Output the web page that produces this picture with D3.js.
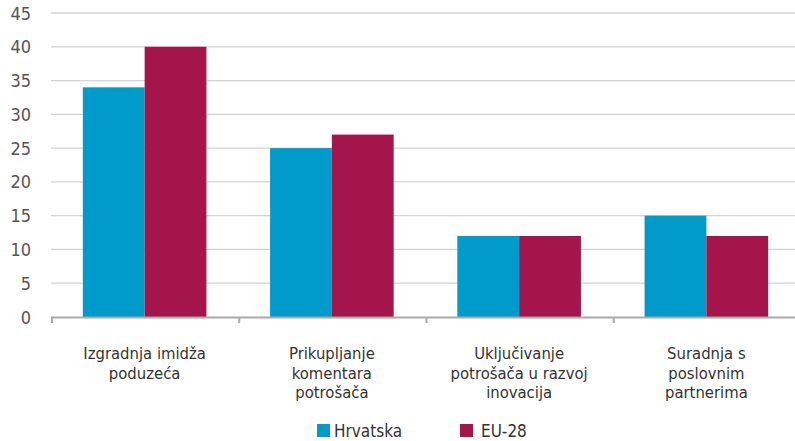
<!DOCTYPE html>
<html>
<head>
<meta charset="utf-8">
<script src="https://cdn.jsdelivr.net/npm/d3@7"></script>
<style>
  body { margin: 0; background: #fff; }
  text { font-family: "Liberation Sans Narrow", "DejaVu Sans Condensed", "Roboto", sans-serif; }
</style>
</head>
<body>
<div id="chart"></div>
<script>
// data
const categories = [
  ["Izgradnja imidža", "poduzeća"],
  ["Prikupljanje", "komentara", "potrošača"],
  ["Uključivanje", "potrošača u razvoj", "inovacija"],
  ["Suradnja s", "poslovnim", "partnerima"]
];
const seriesNames = ["Hrvatska", "EU-28"];
const hrvatska = [34, 25, 12, 15];
const eu28 = [40, 27, 12, 12];
const yTicks = [0, 5, 10, 15, 20, 25, 30, 35, 40, 45];
const colors = ["#009bca", "#a3154b"];

const W = 795, H = 441;
const margin = { left: 51, right: -5, top: 13, bottom: 124 };

const svg = d3.select("#chart").append("svg")
  .attr("width", W).attr("height", H);

const x0 = d3.scaleBand()
  .domain(d3.range(categories.length))
  .range([margin.left, W - margin.right])
  .paddingInner(0.34).paddingOuter(0.17);
const x1 = d3.scaleBand()
  .domain(d3.range(seriesNames.length))
  .range([0, x0.bandwidth()]);
const y = d3.scaleLinear().domain([0, 45]).range([H - margin.bottom, margin.top]);

// gridlines
svg.append("g").selectAll("line")
  .data(yTicks.filter(d => d > 0))
  .join("line")
  .attr("x1", margin.left).attr("x2", W)
  .attr("y1", d => y(d)).attr("y2", d => y(d))
  .attr("stroke", "#d4d4d4").attr("stroke-width", 1.3);

// y labels
svg.append("g").selectAll("text")
  .data(yTicks)
  .join("text")
  .attr("x", 31).attr("y", d => y(d) + 6.5)
  .attr("text-anchor", "end")
  .attr("font-size", 18)
  .attr("fill", "#555")
  .text(d => d);

// bars
const groups = svg.append("g").selectAll("g")
  .data(categories.map((c, i) => [hrvatska[i], eu28[i]]))
  .join("g")
  .attr("transform", (d, i) => `translate(${x0(i)},0)`);
groups.selectAll("rect")
  .data(d => d)
  .join("rect")
  .attr("x", (d, j) => x1(j))
  .attr("width", x1.bandwidth())
  .attr("y", d => y(d))
  .attr("height", d => y(0) - y(d))
  .attr("fill", (d, j) => colors[j]);

// x axis line with ticks
const axis = svg.append("g").attr("stroke", "#aaa").attr("stroke-width", 2);
axis.append("line")
  .attr("x1", margin.left).attr("x2", W)
  .attr("y1", y(0) + 0.5).attr("y2", y(0) + 0.5);
axis.selectAll("line.tick")
  .data(d3.range(categories.length + 1))
  .join("line").attr("class", "tick")
  .attr("x1", i => margin.left + 1 + i * x0.step())
  .attr("x2", i => margin.left + 1 + i * x0.step())
  .attr("y1", y(0)).attr("y2", y(0) + 6);

// category labels
svg.append("g").selectAll("text")
  .data(categories)
  .join("text")
  .attr("text-anchor", "middle")
  .attr("font-size", 16.5)
  .attr("fill", "#333")
  .attr("transform", (d, i) => `translate(${x0(i) + x0.bandwidth() / 2},359)`)
  .selectAll("tspan")
  .data(d => d)
  .join("tspan")
  .attr("x", 0)
  .attr("y", (d, k) => k * 19.5)
  .text(d => d);

// legend
const legendX = [317, 460];
const legend = svg.append("g").selectAll("g")
  .data(seriesNames)
  .join("g")
  .attr("transform", (d, i) => `translate(${legendX[i]},424)`);
legend.append("rect")
  .attr("width", 13).attr("height", 13)
  .attr("fill", (d, i) => colors[i]);
legend.append("text")
  .attr("x", (d, i) => i === 0 ? 17 : 21).attr("y", 12.5)
  .attr("font-size", 17).attr("fill", "#333")
  .text(d => d);
</script>
</body>
</html>
